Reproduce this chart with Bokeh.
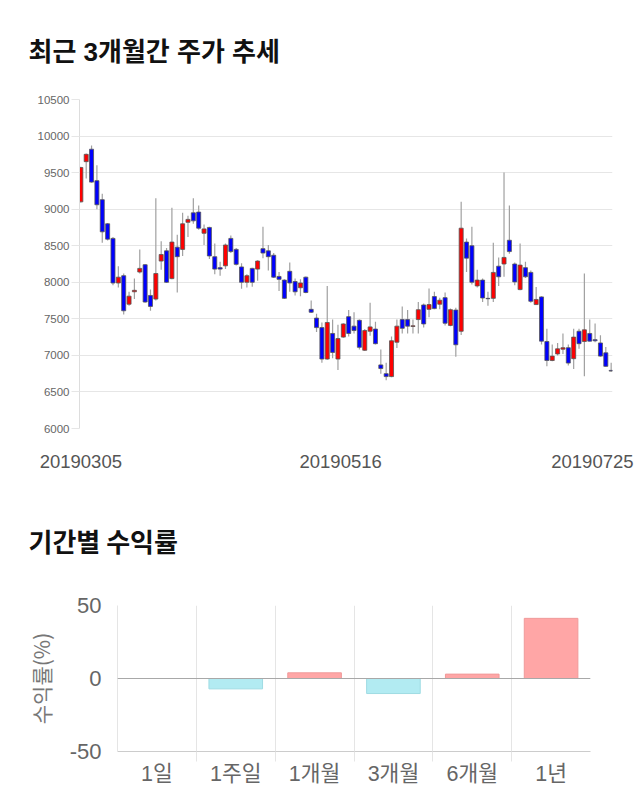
from bokeh.plotting import figure
from bokeh.layouts import column, row
from bokeh.models import Range1d, FixedTicker, ColumnDataSource, Span
from bokeh.embed import file_html
from bokeh.resources import INLINE

# ---------------- data ----------------
title_top = "최근 3개월간 주가 추세"
title_bottom = "기간별 수익률"

date_labels = ["20190305", "20190516", "20190725"]
date_label_idx = [0, 48.5, 95.5]

opens = [9100, 9650, 9820, 9390, 9130, 8800, 8600, 7990, 8090, 7700,
         7870, 8140, 8240, 7820, 7770, 8290, 8430, 8050, 8480, 8450,
         8820, 8950, 8960, 8670, 8750, 8350, 8200, 8225, 8600, 8450,
         8210, 8000, 8190, 8180, 8460, 8430, 8370, 8080, 8030, 8150,
         8010, 7925, 8070, 7630, 7510, 7380, 6950, 7300, 6950, 7250,
         7530, 7400, 7480, 7070, 7330, 7360, 6870, 6750, 6710, 7180,
         7490, 7490, 7395, 7490, 7690, 7630, 7805, 7700, 7790, 7410,
         7620, 7330, 8550, 8500, 7950, 8030, 7780, 7780, 8220, 8250,
         8575, 8250, 7900, 8200, 8135, 7695, 7800, 7190, 6930, 7020,
         7085, 7105, 6955, 7330, 7190, 7300, 7215, 7170, 7035, 6795]
highs = [9580, 9760, 9870, 9600, 9210, 8810, 8620, 8220, 8120, 7870,
         8050, 8450, 8250, 7900, 9150, 8560, 8470, 9020, 8650, 8950,
         8910, 9150, 9050, 8790, 8760, 8530, 8280, 8530, 8640, 8470,
         8260, 8110, 8200, 8300, 8760, 8510, 8400, 8140, 8040, 8270,
         8050, 8040, 8080, 7750, 7570, 7450, 7950, 7490, 7420, 7440,
         7620, 7590, 7490, 7360, 7720, 7460, 7080, 6900, 7260, 7490,
         7670, 7620, 7490, 7730, 7710, 7915, 7870, 7790, 7860, 7640,
         7650, 9100, 8600, 8760, 8170, 8050, 7870, 8540, 8340, 9500,
         9050, 8270, 8530, 8280, 8160, 7935, 7810, 7365, 7150, 7170,
         7300, 7150, 7365, 7365, 8120, 7490, 7435, 7275, 7115, 6900]
lows = [9090, 9420, 9360, 9000, 8540, 8570, 7960, 7930, 7560, 7680,
        7770, 8120, 7720, 7610, 7750, 8170, 7990, 8040, 7860, 8360,
        8620, 8800, 8720, 8510, 8320, 8110, 8090, 8180, 8400, 8230,
        7910, 7930, 7940, 8020, 8330, 8160, 8060, 7880, 7770, 7870,
        7820, 7810, 7850, 7580, 7320, 6900, 6940, 6960, 6800, 7240,
        7260, 7300, 7080, 7060, 7270, 7150, 6750, 6660, 6700, 7100,
        7300, 7300, 7300, 7300, 7380, 7520, 7630, 7630, 7410, 7400,
        6980, 7280, 8140, 7970, 7930, 7730, 7680, 7730, 7950, 8075,
        8390, 7960, 7890, 8060, 7720, 7690, 7150, 6850, 6920, 7000,
        7020, 6860, 6815, 7090, 6715, 7190, 7180, 6980, 6845, 6780]
closes = [9570, 9750, 9370, 9060, 8690, 8590, 7990, 8070, 7610, 7810,
          7890, 8190, 7730, 7670, 8120, 8380, 8000, 8550, 8350, 8800,
          8860, 8840, 8740, 8730, 8360, 8180, 8180, 8510, 8420, 8245,
          8000, 8090, 8000, 8290, 8400, 8350, 8070, 8040, 7780, 7990,
          7870, 7990, 7860, 7590, 7380, 6950, 7450, 7040, 7230, 7430,
          7300, 7340, 7110, 7340, 7390, 7160, 6820, 6710, 7200, 7400,
          7370, 7400, 7405, 7625, 7430, 7695, 7640, 7755, 7440, 7625,
          7145, 8740, 8330, 8000, 8030, 7785, 7775, 8135, 8075, 8340,
          8420, 8005, 8235, 8075, 7740, 7765, 7195, 6930, 6990, 7090,
          7105, 6895, 7250, 7160, 7350, 7195, 7200, 6990, 6850, 6785]

y_ticks = [6000, 6500, 7000, 7500, 8000, 8500, 9000, 9500, 10000, 10500]

periods = ["1일", "1주일", "1개월", "3개월", "6개월", "1년"]
returns = [0.0, -7.1, 3.9, -10.3, 3.0, 41.2]
ret_ticks = [-50, 0, 50]
ret_tick_labels = ["-50", "0", "50"]

FONT = "Liberation Sans, Noto Sans CJK KR"
KFONT = "Noto Sans CJK KR"

# ---------------- candlestick chart ----------------
n = len(opens)
idx = list(range(n))
up = [c > o for o, c in zip(opens, closes)]
src = ColumnDataSource(dict(
    x=idx, o=opens, h=highs, l=lows, c=closes,
    top=[max(o, c) for o, c in zip(opens, closes)],
    bot=[min(o, c) for o, c in zip(opens, closes)],
    col=["#ff0000" if u else "#0000ff" for u in up],
))

p1 = figure(width=640, height=490, output_backend="svg", toolbar_location=None,
            x_range=Range1d(-0.25, n - 0.75), y_range=Range1d(6000, 10500),
            min_border_left=79, min_border_right=28, min_border_top=99,
            min_border_bottom=62, title=title_top)
p1.outline_line_color = None
p1.title.text_font = FONT
p1.title.text_font_size = "26px"
p1.title.text_font_style = "bold"
p1.title.text_color = "#111111"
p1.title.align = "left"
p1.title.offset = -51
p1.title.standoff = 66

p1.segment(x0="x", x1="x", y0="l", y1="h", source=src, line_color="#a0a0a0", line_width=1.2)
p1.vbar(x="x", top="top", bottom="bot", width=0.75, source=src,
        fill_color="col", line_color="#555555", line_width=0.8)

p1.yaxis.ticker = FixedTicker(ticks=y_ticks)
p1.yaxis.major_label_text_font = FONT
p1.yaxis.major_label_text_font_size = "11.5px"
p1.yaxis.major_label_text_color = "#666666"
p1.yaxis.axis_line_color = "#dddddd"
p1.yaxis.major_tick_line_color = "#e6e6e6"
p1.yaxis.major_tick_out = 8
p1.yaxis.major_tick_in = 0
p1.yaxis.minor_tick_line_color = None
p1.yaxis.major_label_standoff = 2
p1.ygrid.ticker = FixedTicker(ticks=y_ticks)
p1.ygrid.grid_line_color = "#e6e6e6"
p1.xgrid.grid_line_color = None

p1.xaxis.ticker = FixedTicker(ticks=date_label_idx)
p1.xaxis.major_label_overrides = {k: v for k, v in zip(date_label_idx, date_labels)}
p1.xaxis.axis_line_color = None
p1.xaxis.major_tick_line_color = None
p1.xaxis.minor_tick_line_color = None
p1.xaxis.major_label_text_font = FONT
p1.xaxis.major_label_text_font_size = "18.5px"
p1.xaxis.major_label_text_color = "#555555"
p1.xaxis.major_label_standoff = 20

# ---------------- returns bar chart ----------------
centers = [i + 0.5 for i in range(len(periods))]
bsrc = ColumnDataSource(dict(
    x=centers, top=returns,
    fill=["#ffa6a6" if r >= 0 else "#b2ebf2" for r in returns],
    line=["#f09a9a" if r >= 0 else "#9fdbe3" for r in returns],
))

p2 = figure(width=640, height=320, output_backend="svg", toolbar_location=None,
            x_range=Range1d(0, len(periods)), y_range=Range1d(-50, 50),
            min_border_left=117, min_border_right=50, min_border_top=115,
            min_border_bottom=59, title=title_bottom + "\n")
p2.outline_line_color = None
p2.title.text_font = KFONT
p2.title.text_font_size = "26px"
p2.title.text_font_style = "bold"
p2.title.text_color = "#111111"
p2.title.align = "left"
p2.title.vertical_align = "top"
p2.title.offset = -89
p2.title.standoff = 15

p2.vbar(x="x", top="top", bottom=0, width=0.68, source=bsrc,
        fill_color="fill", line_color="line", line_width=1)
p2.add_layout(Span(location=0, dimension="width", line_color="#a8a8a8", line_width=1))

p2.yaxis.ticker = FixedTicker(ticks=ret_ticks)
p2.yaxis.major_label_overrides = {k: v for k, v in zip(ret_ticks, ret_tick_labels)}
p2.yaxis.major_label_text_font = FONT
p2.yaxis.major_label_text_font_size = "22px"
p2.yaxis.major_label_text_color = "#666666"
p2.yaxis.axis_line_color = "#e5e5e5"
p2.yaxis.major_tick_line_color = None
p2.yaxis.minor_tick_line_color = None
p2.yaxis.major_label_standoff = 10
p2.yaxis.axis_label = "수익률(%)"
p2.yaxis.axis_label_text_font = KFONT
p2.yaxis.axis_label_text_font_size = "21px"
p2.yaxis.axis_label_text_font_style = "normal"
p2.yaxis.axis_label_text_color = "#777777"
p2.yaxis.axis_label_standoff = 11
p2.ygrid.ticker = FixedTicker(ticks=ret_ticks)
p2.ygrid.grid_line_color = "#e5e5e5"

p2.xaxis.ticker = FixedTicker(ticks=centers, minor_ticks=list(range(1, len(periods))))
p2.xaxis.major_label_overrides = {k: v for k, v in zip(centers, periods)}
p2.xaxis.major_label_text_font = FONT
p2.xaxis.major_label_text_font_size = "21.5px"
p2.xaxis.major_label_text_color = "#666666"
p2.xaxis.major_tick_line_color = None
p2.xaxis.minor_tick_out = 10
p2.xaxis.minor_tick_in = 0
p2.xaxis.minor_tick_line_color = "#e5e5e5"
p2.xaxis.axis_line_color = "#cccccc"
p2.xaxis.major_label_standoff = 0
p2.xgrid.ticker = FixedTicker(ticks=list(range(1, len(periods))))
p2.xgrid.grid_line_color = "#e5e5e5"

layout = column(row(p1), row(p2))
open("out.html", "w").write(file_html(layout, INLINE))
